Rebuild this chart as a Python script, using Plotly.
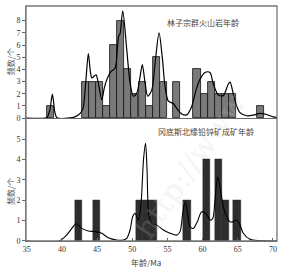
import plotly.graph_objects as go

# ---- data ----
top_bin_centers = [38.4, 43.4, 44.4, 45.38, 46.35, 47.37, 48.38, 49.38, 50.37, 51.4, 52.42,
                   53.43, 54.43, 56.22, 59.2, 60.22, 61.23, 62.24, 63.25, 64.3, 68.2]
top_counts = [1, 3, 3, 3, 1, 6, 8, 4, 2, 3, 1, 5, 3, 3, 4, 2, 3, 2, 2, 2, 1]

top_kde_x = [34.9, 37.6, 37.9, 38.3, 38.65, 39.0, 39.3, 41.2, 42.0, 42.6, 43.0, 43.4, 43.76,
             44.05, 44.25, 44.6, 44.86, 45.2, 45.67, 46.0, 46.28, 46.95, 47.56, 47.9, 48.1,
             48.25, 48.65, 49.22, 49.69, 50.16, 50.64, 51.11, 51.43, 51.82, 52.2, 52.77, 53.24,
             53.81, 54.28, 54.66, 55.13, 55.84, 56.32, 57.03, 57.74, 58.45, 59.06, 59.63, 60.34,
             61.05, 61.52, 62.23, 62.94, 63.65, 63.9, 64.36, 64.84, 65.31, 66.26, 67.2, 68.15,
             69.1, 70.04, 70.57]
top_kde_y = [0.0, 0.0, 0.05, 0.7, 1.97, 0.5, 0.03, 0.02, 0.15, 0.4, 0.8, 3.0, 5.3,
             3.8, 3.3, 3.45, 3.55, 2.8, 1.5, 2.4, 3.0, 3.8, 4.1, 5.8, 6.8,
             6.9, 8.8, 5.6, 2.9, 1.8, 2.05, 3.4, 4.4, 2.9, 1.8, 2.3, 4.5,
             7.0, 4.9, 2.6, 1.4, 1.2, 0.8, 0.35, 0.27, 0.96, 2.3, 3.2, 3.75,
             3.75, 2.8, 1.9, 1.85, 2.8, 2.95, 2.0, 1.0, 0.45, 0.2, 0.25, 0.4,
             0.3, 0.1, 0.05]

bot_bin_centers = [42.35, 44.95, 51.03, 52.0, 52.99, 57.8, 60.53, 62.28, 63.27, 64.9]
bot_counts = [2, 2, 2, 2, 2, 2, 4, 4, 2, 2]

bot_kde_x = [34.9, 39.64, 40.7, 41.41, 42.02, 42.83, 43.76, 44.72, 45.67, 46.6, 47.8, 48.74,
             49.22, 49.69, 50.07, 50.4, 50.87, 51.25, 51.6, 51.89, 52.1, 52.34, 52.77, 53.48,
             54.42, 55.37, 56.32, 56.79, 57.17, 57.5, 57.83, 58.21, 58.68, 59.25, 59.87, 60.58,
             61.05, 61.43, 61.76, 62.12, 62.47, 62.94, 63.42, 63.89, 64.36, 64.74, 65.21, 65.78,
             66.73, 68.15, 70.57]
bot_kde_y = [0.0, 0.0, 0.3, 0.62, 0.85, 0.62, 0.49, 0.46, 0.38, 0.16, 0.05, 0.05,
             0.13, 0.54, 1.2, 1.36, 1.03, 1.85, 4.0, 4.8, 3.5, 1.36, 0.87, 0.78,
             0.54, 0.38, 0.29, 0.46, 1.36, 1.95, 1.44, 0.7, 0.62, 0.95, 1.44, 1.3,
             1.03, 1.1, 2.0, 3.15, 2.66, 1.68, 1.19, 0.95, 0.95, 1.03, 0.87, 0.38,
             0.08, 0.02, 0.0]

x_ticks = [35, 40, 45, 50, 55, 60, 65, 70]
top_y_ticks = [0, 1, 2, 3, 4, 5, 6, 7, 8]
bot_y_ticks = [0, 1, 2, 3, 4, 5]

top_label = "林子宗群火山岩年龄"
bot_label = "冈底斯北缘铅锌矿成矿年龄"
y_title = "频数/个"
x_title = "年龄/Ma"

SERIF = "Liberation Serif, Times New Roman, serif"
CJK = "Noto Sans CJK SC"
split = 0.5227

fig = go.Figure()
fig.add_trace(go.Bar(x=top_bin_centers, y=top_counts, width=1.0, xaxis="x2", yaxis="y2",
                     marker=dict(color="#7a7a7a", line=dict(color="#111", width=0.8)),
                     showlegend=False))
fig.add_trace(go.Scatter(x=top_kde_x, y=top_kde_y, xaxis="x2", yaxis="y2", mode="lines",
                         line=dict(color="#000", width=1.2, shape="spline", smoothing=0.8),
                         showlegend=False))
fig.add_trace(go.Bar(x=bot_bin_centers, y=bot_counts, width=1.05, xaxis="x", yaxis="y",
                     marker=dict(color="#2e2e2e", line=dict(color="#222", width=0.4)),
                     showlegend=False))
fig.add_trace(go.Scatter(x=bot_kde_x, y=bot_kde_y, xaxis="x", yaxis="y", mode="lines",
                         line=dict(color="#000", width=1.1, shape="spline", smoothing=0.8),
                         showlegend=False))


def note(text, x, y, size=8, color="#444", angle=0, family=CJK, opacity=1.0):
    return dict(text=text, xref="paper", yref="paper", x=x, y=y, xanchor="center",
                yanchor="middle", textangle=angle, showarrow=False, opacity=opacity,
                font=dict(family=family, size=size, color=color))


xr = [34.9, 70.57]
fig.update_layout(
    width=283, height=267,
    margin=dict(l=26, r=6, t=6, b=26),
    paper_bgcolor="white", plot_bgcolor="white",
    bargap=0,
    font=dict(family=SERIF, size=8, color="#333"),
    xaxis=dict(domain=[0, 1], range=xr, anchor="y", tickvals=x_ticks,
               ticks="inside", ticklen=3, tickcolor="#666", showline=True,
               linecolor="#666", linewidth=1, showgrid=False, zeroline=False,
               tickfont=dict(family=SERIF, size=8, color="#333")),
    xaxis2=dict(domain=[0, 1], range=xr, anchor="y2", matches="x", showticklabels=False,
                ticks="", showline=True, linecolor="#666", linewidth=1,
                showgrid=False, zeroline=False),
    yaxis=dict(domain=[0, split], range=[0, 6.03], tickvals=bot_y_ticks, ticks="outside",
               ticklen=3, tickcolor="#666", showline=True, linecolor="#777", linewidth=1,
               showgrid=False, zeroline=False,
               tickfont=dict(family=SERIF, size=8, color="#333")),
    yaxis2=dict(domain=[split, 1], range=[0, 9.2], tickvals=top_y_ticks, ticks="outside",
                ticklen=3, tickcolor="#666", showline=True, linecolor="#777", linewidth=1,
                showgrid=False, zeroline=False,
                tickfont=dict(family=SERIF, size=8, color="#333")),
    shapes=[dict(type="rect", xref="paper", yref="paper", x0=0, x1=1, y0=0, y1=1,
                 line=dict(color="#777", width=1.3), layer="above")],
    annotations=[
        note(top_label, 0.705, 0.931),
        note(bot_label, 0.717, 0.4675),
        note(y_title, -0.064, 0.765, color="#555", angle=-90),
        note(y_title, -0.064, 0.2125, color="#555", angle=-90),
        note(x_title, 0.478, -0.09),
        note("http://www", 0.653, 0.323, size=30, color="#c8c8c8", angle=-55,
             family="DejaVu Serif", opacity=0.18),
    ],
)

fig.write_html("out.html")
